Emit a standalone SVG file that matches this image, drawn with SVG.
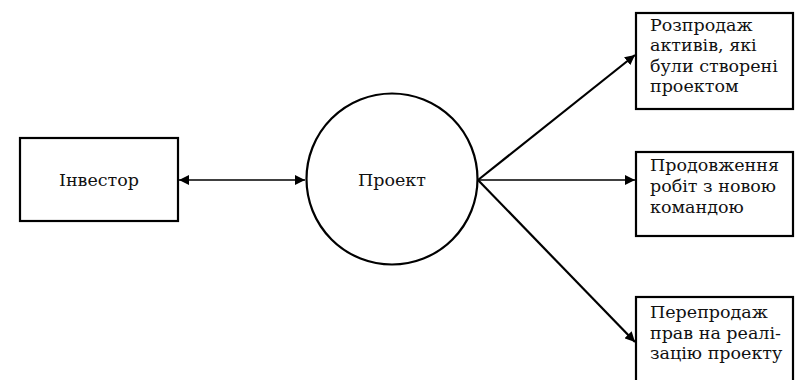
<svg xmlns="http://www.w3.org/2000/svg" width="795" height="380" viewBox="0 0 795 380">
<style>
.box{fill:#fff;stroke:#000;stroke-width:2.2}
.t{font-family:"DejaVu Serif","Liberation Serif",serif;font-size:17.5px;fill:#111}
.c{stroke:#000;fill:none}
</style>
<defs>
<marker id="ah" viewBox="0 0 10 10" refX="10" refY="5" markerWidth="10" markerHeight="10" markerUnits="userSpaceOnUse" orient="auto-start-reverse">
<path d="M0,0 L10,5 L0,10 z" fill="#000"/>
</marker>
</defs>
<rect width="795" height="380" fill="#fff"/>
<g id="connectors">
<line class="c" x1="179" y1="180" x2="305" y2="180" stroke-width="1.5" marker-start="url(#ah)" marker-end="url(#ah)"/>
<line class="c" x1="478" y1="180" x2="635" y2="55" stroke-width="2.2" marker-end="url(#ah)"/>
<line class="c" x1="478" y1="180" x2="635" y2="180" stroke-width="1.5" marker-end="url(#ah)"/>
<line class="c" x1="478" y1="180" x2="635" y2="342" stroke-width="2.2" marker-end="url(#ah)"/>
</g>
<g id="investor">
<rect class="box" x="20" y="138" width="158" height="83"/>
<text class="t" x="99" y="186" text-anchor="middle">Інвестор</text>
</g>
<g id="project">
<circle class="box" cx="392" cy="179" r="85.5"/>
<text class="t" x="392" y="186" text-anchor="middle">Проект</text>
</g>
<g id="sale-assets">
<rect class="box" x="636" y="13" width="157" height="96"/>
<text class="t" x="650" y="31">Розпродаж</text>
<text class="t" x="650" y="51">активів, які</text>
<text class="t" x="650" y="72">були створені</text>
<text class="t" x="650" y="92">проектом</text>
</g>
<g id="continue-work">
<rect class="box" x="636" y="152" width="157" height="84"/>
<text class="t" x="650" y="171">Продовження</text>
<text class="t" x="650" y="192">робіт з новою</text>
<text class="t" x="650" y="213">командою</text>
</g>
<g id="resale-rights">
<rect class="box" x="636" y="297" width="157" height="90"/>
<text class="t" x="650" y="318">Перепродаж</text>
<text class="t" x="650" y="339">прав на реалі-</text>
<text class="t" x="650" y="359">зацію проекту</text>
</g>
</svg>
